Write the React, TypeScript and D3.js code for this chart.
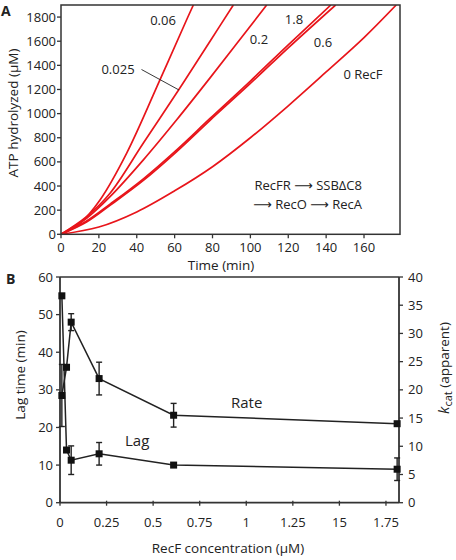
import React from "react";
import * as d3 from "d3";

// ---------- Panel A data ----------
const timeTicks = [0, 20, 40, 60, 80, 100, 120, 140, 160];
const atpTicks = [0, 200, 400, 600, 800, 1000, 1200, 1400, 1600, 1800];

const curve0: [number, number][] = [[0, 0], [20, 60], [40, 185], [60, 360], [80, 560], [100, 800], [120, 1065], [140, 1345], [160, 1630], [177, 1900]];
const curve0025: [number, number][] = [[0, 0], [13.5, 146], [25.9, 340], [43.5, 756], [62, 1193], [78.7, 1600], [91, 1900]];
const curve006: [number, number][] = [[0, 0], [10, 91], [20.6, 285], [34.7, 673], [52.3, 1282], [66.4, 1780], [69.9, 1900]];
const curve02: [number, number][] = [[0, 0], [13.5, 133], [25.9, 312], [43.5, 617], [61.1, 949], [78.7, 1296], [108.6, 1900]];
const curve06: [number, number][] = [[0, 0], [13.5, 102], [25.9, 240], [43.5, 447], [61.1, 686], [78.7, 945], [100, 1250], [120, 1545], [145, 1900]];
const curve18: [number, number][] = [[0, 0], [13.5, 110], [25.9, 250], [43.5, 460], [61.1, 700], [78.7, 960], [100, 1270], [120, 1570], [142.5, 1900]];
const curvesA = [curve0, curve0025, curve006, curve02, curve06, curve18];

// ---------- Panel B data ----------
const recfConc = [0.01, 0.035, 0.06, 0.21, 0.61, 1.81];
const lagValues = [55, 14, 11.3, 13, 10, 8.9];
const lagErrors = [0, 0, 3.8, 3, 0, 3];
const rateValues = [19, 24, 32, 22, 15.5, 14];
const rateErrors = [5.5, 0, 1.5, 2.9, 2.1, 0];
const concTicks = [0, 0.25, 0.5, 0.75, 1, 1.25, 1.5, 1.75];
const concTickLabels = ["0", "0.25", "0.5", "0.75", "1", "1.25", "15", "1.75"];
const lagTicks = [0, 10, 20, 30, 40, 50, 60];
const kcatTicks = [0, 5, 10, 15, 20, 25, 30, 35, 40];

const FONT = "'Open Sans', 'DejaVu Sans', sans-serif";
const RED = "#e8151b";
const AX = "#333";

export default function App() {
  // Panel A scales
  const xA = d3.scaleLinear().domain([0, 179]).range([61, 400]);
  const yA = d3.scaleLinear().domain([0, 1900]).range([234.3, 5]);
  const lineA = d3
    .line<[number, number]>()
    .x((d) => xA(d[0]))
    .y((d) => yA(d[1]))
    .curve(d3.curveCatmullRom.alpha(0.5));

  // Panel B scales
  const xB = d3.scaleLinear().domain([0, 1.82]).range([60, 399]);
  const yL = d3.scaleLinear().domain([0, 60]).range([502.7, 277]);
  const yR = d3.scaleLinear().domain([0, 40]).range([502.7, 277]);

  const lagPts = recfConc.map((c, i) => [xB(c), yL(lagValues[i])] as [number, number]);
  const ratePts = recfConc.map((c, i) => [xB(c), yR(rateValues[i])] as [number, number]);
  const lineB = d3.line<[number, number]>();

  const tickFont = 13;
  const M = 7;

  return (
    <svg
      width={456}
      height={560}
      style={{ position: "absolute", left: 0, top: 0, background: "#fff" }}
      fontFamily={FONT}
    >
      {/* ================= Panel A ================= */}
      <text x={1} y={16} fontSize={14} fontWeight="bold" fill="#222">A</text>
      <defs>
        <clipPath id="clipA">
          <rect x={xA(0)} y={yA(1900)} width={xA(179) - xA(0)} height={yA(0) - yA(1900)} />
        </clipPath>
      </defs>
      <g clipPath="url(#clipA)">
        {curvesA.map((c, i) => (
          <path key={i} d={lineA(c) || ""} fill="none" stroke={RED} strokeWidth={1.7} />
        ))}
      </g>
      <rect
        x={xA(0)}
        y={yA(1900)}
        width={xA(179) - xA(0)}
        height={yA(0) - yA(1900)}
        fill="none"
        stroke={AX}
        strokeWidth={1.5}
      />
      {atpTicks.map((t) => (
        <g key={"ya" + t}>
          <line x1={xA(0) - 4} x2={xA(0)} y1={yA(t)} y2={yA(t)} stroke={AX} strokeWidth={1.3} />
          <text x={xA(0) - 5} y={yA(t) + 4.5} fontSize={tickFont} textAnchor="end" fill="#222">{t}</text>
        </g>
      ))}
      {timeTicks.map((t) => (
        <g key={"xa" + t}>
          <line x1={xA(t)} x2={xA(t)} y1={yA(0)} y2={yA(0) + 4} stroke={AX} strokeWidth={1.3} />
          <text x={xA(t)} y={252} fontSize={tickFont} textAnchor="middle" fill="#222">{t}</text>
        </g>
      ))}
      <text x={221} y={270} fontSize={13.5} textAnchor="middle" fill="#222">Time (min)</text>
      <text
        transform="translate(18,113) rotate(-90)"
        fontSize={13.5}
        textAnchor="middle"
        fill="#222"
      >
        ATP hydrolyzed (µM)
      </text>
      {/* curve labels */}
      <text x={163} y={25} fontSize={13} textAnchor="middle" fill="#222">0.06</text>
      <text x={118} y={74} fontSize={13} textAnchor="middle" fill="#222">0.025</text>
      <line x1={141.5} y1={69.5} x2={179} y2={90} stroke="#222" strokeWidth={0.9} />
      <text x={294} y={24} fontSize={13} textAnchor="middle" fill="#222">1.8</text>
      <text x={259} y={44} fontSize={13} textAnchor="middle" fill="#222">0.2</text>
      <text x={323} y={47} fontSize={13} textAnchor="middle" fill="#222">0.6</text>
      <text x={363} y={79} fontSize={13} textAnchor="middle" fill="#222">0 RecF</text>
      <text x={362} y={190} fontSize={13} textAnchor="end" fill="#222">RecFR ⟶ SSBΔC8</text>
      <text x={362} y={209} fontSize={13} textAnchor="end" fill="#222">⟶ RecO ⟶ RecA</text>

      {/* ================= Panel B ================= */}
      <text x={6} y={284} fontSize={14} fontWeight="bold" fill="#222">B</text>
      <line x1={xB(0)} x2={xB(1.82)} y1={yL(60)} y2={yL(60)} stroke={AX} strokeWidth={1.5} />
      <line x1={xB(0)} x2={xB(1.82)} y1={yL(0)} y2={yL(0)} stroke={AX} strokeWidth={1.8} />
      <line x1={xB(0)} x2={xB(0)} y1={yL(0)} y2={yL(60)} stroke={AX} strokeWidth={1.8} />
      <line x1={xB(1.82)} x2={xB(1.82)} y1={yL(0)} y2={yL(60)} stroke={AX} strokeWidth={1.8} />
      {lagTicks.map((t) => (
        <g key={"yl" + t}>
          <line x1={xB(0) - 4} x2={xB(0)} y1={yL(t)} y2={yL(t)} stroke={AX} strokeWidth={1.3} />
          <text x={xB(0) - 7} y={yL(t) + 4.5} fontSize={tickFont} textAnchor="end" fill="#222">{t}</text>
        </g>
      ))}
      {kcatTicks.map((t) => (
        <g key={"yr" + t}>
          <line x1={xB(1.82)} x2={xB(1.82) + 4} y1={yR(t)} y2={yR(t)} stroke={AX} strokeWidth={1.3} />
          <text x={xB(1.82) + 9} y={yR(t) + 4.5} fontSize={tickFont} textAnchor="start" fill="#222">{t}</text>
        </g>
      ))}
      {concTicks.map((t, i) => (
        <g key={"xb" + t}>
          <line x1={xB(t)} x2={xB(t)} y1={yL(0) - 2} y2={yL(0) + 3} stroke={AX} strokeWidth={1.3} />
          <text x={xB(t)} y={527} fontSize={tickFont} textAnchor="middle" fill="#222">{concTickLabels[i]}</text>
        </g>
      ))}
      <text x={228} y={553} fontSize={13.5} textAnchor="middle" fill="#222">RecF concentration (µM)</text>
      <text transform="translate(25,375) rotate(-90)" fontSize={13.5} textAnchor="middle" fill="#222">
        Lag time (min)
      </text>
      <text transform="translate(449,368) rotate(-90)" fontSize={13.5} textAnchor="middle" fill="#222">
        <tspan fontStyle="italic" fontSize={15}>k</tspan>
        <tspan fontSize={11} dy={3}>cat</tspan>
        <tspan dy={-3}>{"  (apparent)"}</tspan>
      </text>

      {/* series lines */}
      <path d={lineB(lagPts) || ""} fill="none" stroke="#222" strokeWidth={1.5} />
      <path d={lineB(ratePts) || ""} fill="none" stroke="#222" strokeWidth={1.5} />
      {/* error bars */}
      {recfConc.map((c, i) =>
        lagErrors[i] > 0 ? (
          <g key={"el" + i} stroke="#222" strokeWidth={1.4}>
            <line x1={xB(c)} x2={xB(c)} y1={yL(lagValues[i] - lagErrors[i])} y2={yL(lagValues[i] + lagErrors[i])} />
            <line x1={xB(c) - 3} x2={xB(c) + 3} y1={yL(lagValues[i] - lagErrors[i])} y2={yL(lagValues[i] - lagErrors[i])} />
            <line x1={xB(c) - 3} x2={xB(c) + 3} y1={yL(lagValues[i] + lagErrors[i])} y2={yL(lagValues[i] + lagErrors[i])} />
          </g>
        ) : null
      )}
      {recfConc.map((c, i) =>
        rateErrors[i] > 0 ? (
          <g key={"er" + i} stroke="#222" strokeWidth={1.4}>
            <line x1={xB(c)} x2={xB(c)} y1={yR(rateValues[i] - rateErrors[i])} y2={yR(rateValues[i] + rateErrors[i])} />
            <line x1={xB(c) - 3} x2={xB(c) + 3} y1={yR(rateValues[i] - rateErrors[i])} y2={yR(rateValues[i] - rateErrors[i])} />
            <line x1={xB(c) - 3} x2={xB(c) + 3} y1={yR(rateValues[i] + rateErrors[i])} y2={yR(rateValues[i] + rateErrors[i])} />
          </g>
        ) : null
      )}
      {/* markers */}
      {lagPts.map((p, i) => (
        <rect key={"ml" + i} x={p[0] - M / 2} y={p[1] - M / 2} width={M} height={M} fill="#111" />
      ))}
      {ratePts.map((p, i) => (
        <rect key={"mr" + i} x={p[0] - M / 2} y={p[1] - M / 2} width={M} height={M} fill="#111" />
      ))}
      <text x={231} y={408} fontSize={15} fill="#222">Rate</text>
      <text x={125} y={446} fontSize={15} fill="#222">Lag</text>
    </svg>
  );
}
